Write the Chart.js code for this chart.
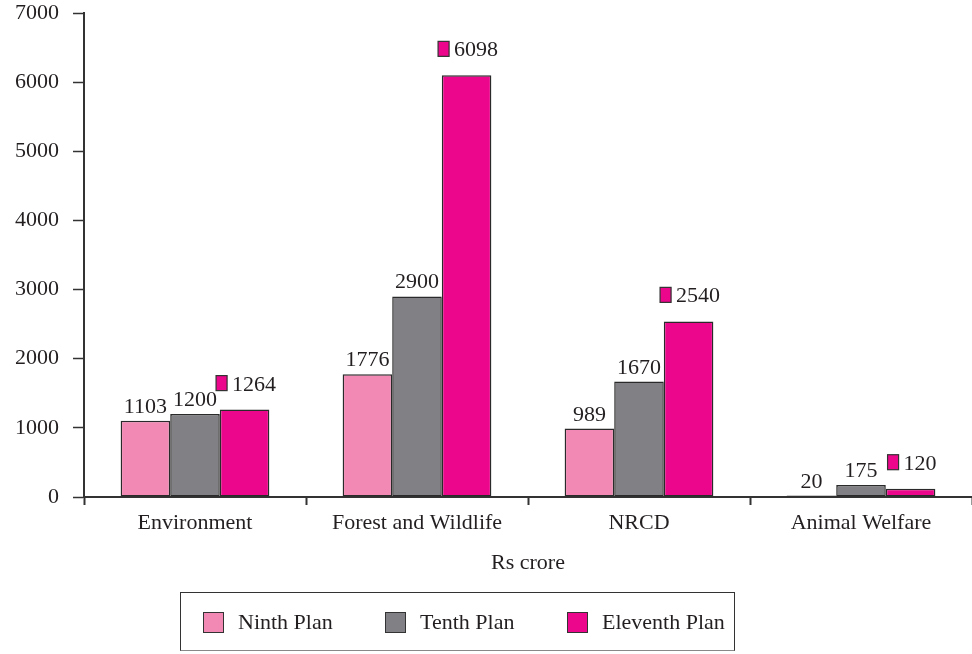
<!DOCTYPE html>
<html>
<head>
<meta charset="utf-8">
<script src="https://cdn.jsdelivr.net/npm/chart.js@4.4.1/dist/chart.umd.min.js"></script>
<style>
  html, body { margin: 0; padding: 0; background: #fff; }
  #wrap { position: relative; width: 972px; height: 654px; }
  #legend {
    position: absolute; left: 180px; top: 592px; width: 553px; height: 57px;
    border: 1.5px solid #333; border-bottom-color: #888;
    font-family: "Liberation Serif", serif; font-size: 22px; color: #231f20;
  }
  #legend .item { position: absolute; top: 16px; display: flex; align-items: center; }
  #legend .box { width: 19px; height: 19px; border: 1.5px solid #333; margin-right: 14px; }
</style>
</head>
<body>
<div id="wrap">
  <canvas id="chart" width="972" height="654"></canvas>
  <div id="legend"></div>
</div>
<script>
"use strict";

const CATEGORIES = ["Environment", "Forest and Wildlife", "NRCD", "Animal Welfare"];
const NINTH = [1103, 1776, 989, 20];
const TENTH = [1200, 2900, 1670, 175];
const ELEVENTH = [1264, 6098, 2540, 120];
const Y_TICKS = [0, 1000, 2000, 3000, 4000, 5000, 6000, 7000];
const SERIES = ["Ninth Plan", "Tenth Plan", "Eleventh Plan"];
const COLORS = ["#f288b4", "#818185", "#ec068b"];
const FONT = "Liberation Serif";
const INK = "#231f20";

// value labels above the bars; Eleventh Plan gets a small key marker
const valueLabels = {
  id: "valueLabels",
  afterDatasetsDraw(chart) {
    const ctx = chart.ctx;
    ctx.save();
    ctx.font = "22px '" + FONT + "'";
    ctx.fillStyle = INK;
    ctx.textBaseline = "alphabetic";
    chart.data.datasets.forEach(function(ds, di) {
      const meta = chart.getDatasetMeta(di);
      meta.data.forEach(function(bar, i) {
        const text = String(ds.data[i]);
        if (di < 2) {
          ctx.textAlign = "center";
          ctx.fillText(text, bar.x, bar.y - 8);
        } else {
          const w = ctx.measureText(text).width;
          const groupW = 11 + 6 + w;
          const left = bar.x - groupW / 2 + 2;
          const base = bar.y - 19;
          ctx.fillStyle = ds.backgroundColor;
          ctx.fillRect(left, base - 15, 11, 15);
          ctx.strokeStyle = "#333";
          ctx.lineWidth = 1.2;
          ctx.strokeRect(left, base - 15, 11, 15);
          ctx.fillStyle = INK;
          ctx.textAlign = "left";
          ctx.fillText(text, left + 16, base);
        }
      });
    });
    ctx.restore();
  }
};

const ctx = document.getElementById("chart").getContext("2d");
new Chart(ctx, {
  type: "bar",
  data: {
    labels: CATEGORIES,
    datasets: [NINTH, TENTH, ELEVENTH].map(function(values, i) {
      return {
        label: SERIES[i],
        data: values,
        backgroundColor: COLORS[i],
        borderColor: "#2a2a2a",
        borderWidth: 1.5,
        borderSkipped: false,
        categoryPercentage: 0.67,
        barPercentage: 1.0
      };
    })
  },
  options: {
    responsive: false,
    animation: false,
    layout: { padding: { top: 13, right: -6, bottom: 77, left: 0 } },
    plugins: {
      legend: { display: false },
      tooltip: { enabled: false }
    },
    scales: {
      x: {
        grid: {
          offset: true, drawOnChartArea: false, drawTicks: true,
          tickLength: 8, tickWidth: 2, tickColor: "#333"
        },
        border: { color: "#333", width: 2 },
        ticks: { color: INK, font: { family: FONT, size: 22 }, padding: 5 },
        title: {
          display: true, text: "Rs crore", color: INK,
          font: { family: FONT, size: 22 }, padding: { top: 0, bottom: 1 }
        },
        afterFit(scale) { scale.height = 80; }
      },
      y: {
        min: 0,
        max: 7000,
        afterBuildTicks(scale) { scale.ticks = Y_TICKS.map(v => ({ value: v })); },
        grid: {
          drawOnChartArea: false, drawTicks: true,
          tickLength: 11, tickWidth: 1.5, tickColor: "#333"
        },
        border: { color: "#333", width: 2 },
        ticks: {
          color: INK, font: { family: FONT, size: 22 }, padding: 14,
          callback: v => String(v)
        },
        afterFit(scale) {
          scale.width = 84;
          scale.paddingTop = 0;
          scale.paddingBottom = 0;
        }
      }
    }
  },
  plugins: [valueLabels]
});

// legend box under the chart
const legend = document.getElementById("legend");
const LEGEND_X = [22, 204, 386];
SERIES.forEach(function(name, i) {
  const item = document.createElement("div");
  item.className = "item";
  item.style.left = LEGEND_X[i] + "px";
  const box = document.createElement("span");
  box.className = "box";
  box.style.background = COLORS[i];
  const label = document.createElement("span");
  label.innerText = name;
  item.append(box);
  item.append(label);
  legend.append(item);
});
</script>
</body>
</html>
